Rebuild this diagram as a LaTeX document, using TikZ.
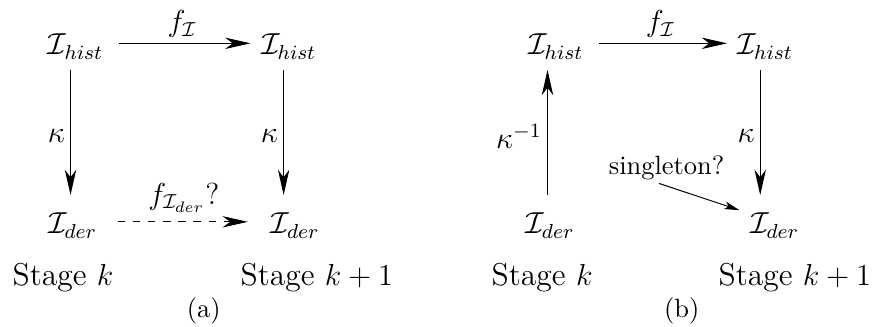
\documentclass[tikz,border=0pt]{standalone}
\usetikzlibrary{positioning,arrows.meta,calc}

\begin{document}
\begin{tikzpicture}[
    state/.style={inner sep=4pt, font=\fontsize{11.5}{14}\selectfont, anchor=base},
    stage/.style={font=\fontsize{12.5}{15}\selectfont, anchor=base},
    caption/.style={font=\fontsize{10.45}{12.5}\selectfont, anchor=base},
    arrow/.style={-{Stealth[length=10pt, width=4.5pt, inset=3pt]}, line width=0.4pt},
    thinarrow/.style={-{Stealth[length=6pt, width=3pt, inset=1.5pt]}, line width=0.4pt},
    maplabel/.style={font=\fontsize{12}{14.5}\selectfont, inner sep=2pt}
]
\useasboundingbox (0,0) rectangle (12.14,4.54);

% (a) Stage k and k+1
\node[state] (histA) at (1.05,3.78) {$\mathcal{I}_{hist}$};
\node[state] (derA) at (1.01,1.29) {$\mathcal{I}_{der}$};
\node[state] (histA2) at (4.01,3.78) {$\mathcal{I}_{hist}$};
\node[state] (derA2) at (4.10,1.29) {$\mathcal{I}_{der}$};

\draw[arrow, shorten <=2pt] ([yshift=4.5pt]histA.base east) -- node[above, maplabel] {$f_{\mathcal{I}}$} ([yshift=4.5pt]histA2.base west);
\draw[arrow, shorten >=3pt] ([xshift=-2pt]histA.south) -- node[left, maplabel] {$\kappa$} ([xshift=-2pt]histA.south |- derA.north);
\draw[arrow, shorten >=3pt] ([xshift=-2pt]histA2.south) -- node[left, maplabel] {$\kappa$} ([xshift=-2pt]histA2.south |- derA2.north);
\draw[arrow, dash pattern=on 3pt off 3pt, shorten <=3.8pt, shorten >=4.8pt]
    ([yshift=4.8pt]derA.base east) -- node[above, maplabel, inner sep=3.5pt] {$f_{\mathcal{I}_{der}}?$} ([yshift=4.8pt]derA2.base west);

\node[stage] (stageA) at (0.875,0.58) {Stage $k$};
\node[stage] (stageA2) at (4.40,0.58) {Stage $k+1$};
\node[caption] (capA) at (2.83,0.13) {(a)};

% (b) Stage k and k+1
\node[state] (histB) at (7.72,3.78) {$\mathcal{I}_{hist}$};
\node[state] (derB) at (7.64,1.29) {$\mathcal{I}_{der}$};
\node[state] (histB2) at (10.63,3.78) {$\mathcal{I}_{hist}$};
\node[state] (derB2) at (10.76,1.29) {$\mathcal{I}_{der}$};

\draw[arrow, shorten <=2pt] ([yshift=4.5pt]histB.base east) -- node[above, maplabel] {$f_{\mathcal{I}}$} ([yshift=4.5pt]histB2.base west);
\draw[arrow, shorten <=3pt] ([xshift=-1pt]derB.north) -- node[left, maplabel] {$\kappa^{-1}$} ([xshift=-1pt]derB.north |- histB.south);
\draw[arrow, shorten >=3pt] ([xshift=-2pt]histB2.south) -- node[left, maplabel] {$\kappa$} ([xshift=-2pt]histB2.south |- derB2.north);

\node[caption, inner sep=1pt] (sing) at (9.26,2.11) {singleton?};
\draw[thinarrow] ([xshift=-3pt]sing.south) -- ([yshift=-3pt]derB2.north west);

\node[stage] (stageB) at (7.53,0.58) {Stage $k$};
\node[stage] (stageB2) at (11.04,0.58) {Stage $k+1$};
\node[caption] (capB) at (9.47,0.13) {(b)};

\end{tikzpicture}
\end{document}
